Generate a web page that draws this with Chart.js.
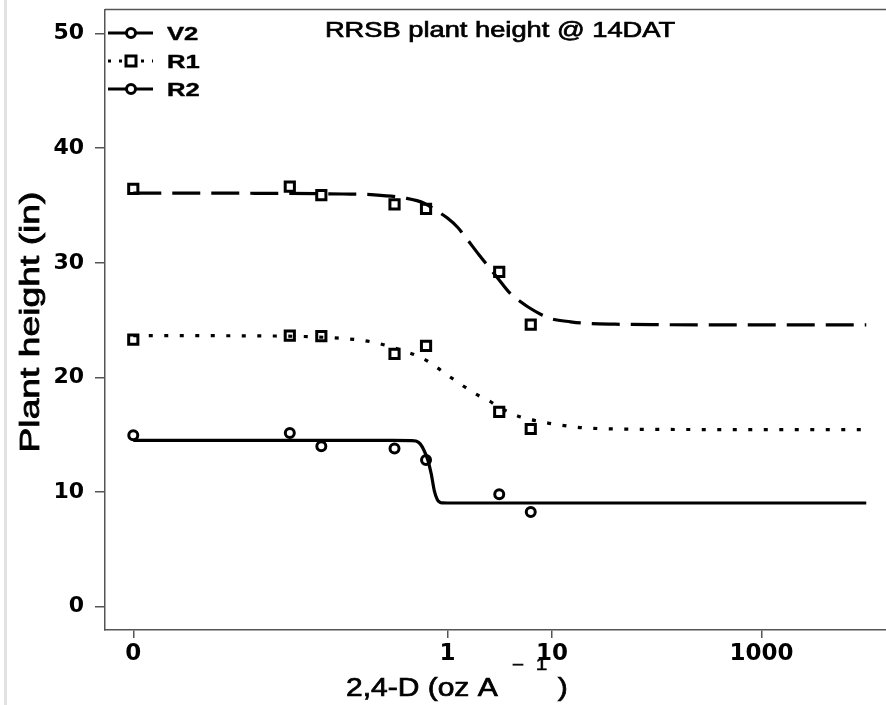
<!DOCTYPE html>
<html>
<head>
<meta charset="utf-8">
<script src="https://cdn.jsdelivr.net/npm/chart.js@4.4.1/dist/chart.umd.min.js"></script>
<style>
  html, body { margin: 0; padding: 0; background: #fff; overflow: hidden; width: 886px; height: 705px; }
  canvas { display: block; }
</style>
</head>
<body>
<canvas id="chart" width="920" height="705"></canvas>
<script>
// Observed plant height (in) at each 2,4-D rate (oz/A)
const doses    = [0, 0.03125, 0.0625, 0.3125, 0.625, 3.125, 6.25];
const heightV2 = [36.45, 36.65, 35.9, 35.1, 34.7, 29.2, 24.6];
const heightR1 = [23.3, 23.65, 23.6, 22.05, 22.75, 17.0, 15.5];
const heightR2 = [14.95, 15.15, 14.0, 13.8, 12.8, 9.8, 8.25];

// Fitted dose-response curves (rate, predicted height)
const fitDoses   = [0, 0.01, 0.1, 0.2, 0.4, 0.6, 0.8, 1, 1.25, 1.5, 2, 2.5, 3, 4, 5, 6, 8, 10, 15, 20, 40, 100, 1000, 10000];
const fitV2      = [36.08, 36.07, 36.0, 35.93, 35.63, 35.2, 34.5, 33.9, 33.1, 32.2, 30.7, 29.6, 28.7, 27.3, 26.6, 26.1, 25.45, 25.1, 24.85, 24.73, 24.64, 24.6, 24.58, 24.58];
const fitR1      = [23.65, 23.63, 23.4, 23.05, 22.25, 21.6, 20.85, 20.2, 19.6, 19.1, 18.4, 17.95, 17.5, 16.9, 16.55, 16.35, 16.12, 15.95, 15.72, 15.6, 15.5, 15.46, 15.45, 15.45];
const fitDosesR2 = [0, 0.01, 0.1, 0.3, 0.45, 0.5, 0.55, 0.6, 0.65, 0.7, 0.75, 0.8, 0.85, 0.9, 1, 10, 100, 1000, 10000];
const fitR2      = [14.5, 14.5, 14.5, 14.5, 14.49, 14.45, 14.2, 13.6, 12.8, 11.6, 10.1, 9.35, 9.1, 9.05, 9.04, 9.04, 9.04, 9.04, 9.04];

const seriesNames = ['V2', 'R1', 'R2'];
const xTickValues = [0, 1, 10, 1000];
const yTickValues = [0, 10, 20, 30, 40, 50];

// The untreated check (rate 0) sits at this position on the log axis
const ZERO_AT = 0.001;
const toAxis = d => (d === 0 ? ZERO_AT : d);
const pairs = (xs, ys) => xs.map((x, i) => ({ x: toAxis(x), y: ys[i] }));

const curve = {
  showLine: true, pointRadius: 0, pointHoverRadius: 0, borderColor: '#000',
  borderWidth: 3.2, fill: false, cubicInterpolationMode: 'monotone', borderCapStyle: 'butt'
};
const marks = {
  showLine: false, borderColor: '#000', borderWidth: 3, backgroundColor: 'rgba(0,0,0,0)'
};

// Draws text with a horizontal stretch factor and a light outline for weight
function wideText(ctx, text, x, y, font, sx, align, rot, stroke) {
  ctx.save();
  ctx.font = font;
  ctx.fillStyle = '#000';
  ctx.strokeStyle = '#000';
  ctx.translate(x, y);
  if (rot) ctx.rotate(rot);
  ctx.scale(sx, 1);
  ctx.textAlign = align || 'left';
  ctx.textBaseline = 'alphabetic';
  ctx.fillText(text, 0, 0);
  if (stroke) { ctx.lineWidth = stroke; ctx.strokeText(text, 0, 0); }
  const w = ctx.measureText(text).width * sx;
  ctx.restore();
  return w;
}

const framePlugin = {
  id: 'frame',
  beforeDraw(chart) {
    const ctx = chart.ctx;
    ctx.save();
    ctx.strokeStyle = '#e2e2e2';
    ctx.lineWidth = 3;
    ctx.beginPath(); ctx.moveTo(5.5, 0); ctx.lineTo(5.5, 705); ctx.stroke();
    ctx.restore();
  },
  afterDraw(chart) {
    const { ctx, chartArea: a } = chart;
    ctx.save();
    ctx.strokeStyle = '#555';
    ctx.lineWidth = 1.5;
    ctx.beginPath();
    ctx.moveTo(a.left, a.top); ctx.lineTo(a.right, a.top); ctx.lineTo(a.right, a.bottom);
    ctx.stroke();
    ctx.restore();

    // chart title
    wideText(ctx, 'RRSB plant height @ 14DAT', 500, 37, '22px "Liberation Sans", Arial, sans-serif', 1.24, 'center', 0, 0.7);

    // x-axis title with superscript
    const f = '25px "Liberation Sans", Arial, sans-serif';
    let x = 346;
    x += wideText(ctx, '2,4-D (oz A', x, 696, f, 1.2, 'left', 0, 0.7);
    const fs = '16px "Liberation Sans", Arial, sans-serif';
    wideText(ctx, '\u2212', x + 14, 670, fs, 1.3, 'left', 0, 0.5);
    wideText(ctx, '1', x + 38, 670, fs, 1.3, 'left', 0, 0.5);
    wideText(ctx, ')', x + 60, 696, f, 1.2, 'left', 0, 0.7);

    // y-axis title
    wideText(ctx, 'Plant height (in)', 39, 322, '27px "Liberation Sans", Arial, sans-serif', 1.38, 'center', -Math.PI / 2, 0.8);

    // legend
    const rows = chart.data.datasets.filter(d => d.legendMarker);
    rows.forEach((d, i) => {
      const y = 33 + i * 28;
      ctx.save();
      ctx.strokeStyle = '#000';
      ctx.lineWidth = 3;
      ctx.setLineDash(d.legendDash);
      ctx.beginPath(); ctx.moveTo(108, y); ctx.lineTo(153, y); ctx.stroke();
      ctx.setLineDash([]);
      ctx.beginPath();
      if (d.legendMarker === 'circle') ctx.arc(131, y, 4.5, 0, Math.PI * 2);
      else ctx.rect(126, y - 5, 10, 10);
      ctx.fillStyle = '#fff';
      ctx.fill();
      ctx.stroke();
      ctx.restore();
      wideText(ctx, d.label, 167, y + 7, 'bold 19px "Liberation Sans", Arial, sans-serif', 1.35, 'left', 0, 0.4);
    });
  }
};

new Chart(document.getElementById('chart'), {
  type: 'scatter',
  data: {
    datasets: [
      { ...curve, label: 'V2 curve', data: pairs(fitDoses, fitV2), borderDash: [28, 11] },
      { ...curve, label: 'R1 curve', data: pairs(fitDoses, fitR1), borderDash: [4, 11.5] },
      { ...curve, label: 'R2 curve', data: pairs(fitDosesR2, fitR2) },
      { ...marks, label: seriesNames[0], data: pairs(doses, heightV2), pointStyle: 'rect', pointRadius: 6.5, legendMarker: 'circle', legendDash: [] },
      { ...marks, label: seriesNames[1], data: pairs(doses, heightR1), pointStyle: 'rect', pointRadius: 6.5, legendMarker: 'rect', legendDash: [3, 8] },
      { ...marks, label: seriesNames[2], data: pairs(doses, heightR2), pointStyle: 'circle', pointRadius: 4.5, legendMarker: 'circle', legendDash: [] }
    ]
  },
  options: {
    responsive: false,
    animation: false,
    devicePixelRatio: 1,
    layout: { padding: { top: 5, right: 20, bottom: 0, left: 0 } },
    plugins: { legend: { display: false }, title: { display: false }, tooltip: { enabled: false } },
    scales: {
      x: {
        type: 'logarithmic',
        min: 0.000537,
        max: 21000,
        afterBuildTicks: s => { s.ticks = xTickValues.map(v => ({ value: toAxis(v) })); },
        afterFit: s => { s.height = 75; s.paddingLeft = 0; s.paddingRight = 0; },
        ticks: {
          callback: (v, i) => String(xTickValues[i]),
          font: { family: 'DejaVu Sans', weight: 'bold', size: 23 },
          color: '#000', padding: 2, maxRotation: 0, autoSkip: false
        },
        grid: { drawOnChartArea: false, drawTicks: true, tickLength: 8, color: '#555', lineWidth: 1.5 },
        border: { display: true, color: '#555', width: 1.5 }
      },
      y: {
        type: 'linear',
        min: -2.04,
        max: 52.1,
        afterBuildTicks: s => { s.ticks = yTickValues.map(v => ({ value: v })); },
        afterFit: s => { s.width = 105; s.paddingTop = 0; s.paddingBottom = 0; },
        ticks: {
          callback: (v, i) => String(yTickValues[i]),
          font: { family: 'DejaVu Sans', weight: 'bold', size: 22 },
          color: '#000', padding: 11
        },
        grid: { drawOnChartArea: false, drawTicks: true, tickLength: 10, color: '#555', lineWidth: 1.5 },
        border: { display: true, color: '#555', width: 1.5 }
      }
    }
  },
  plugins: [framePlugin]
});
</script>
</body>
</html>
